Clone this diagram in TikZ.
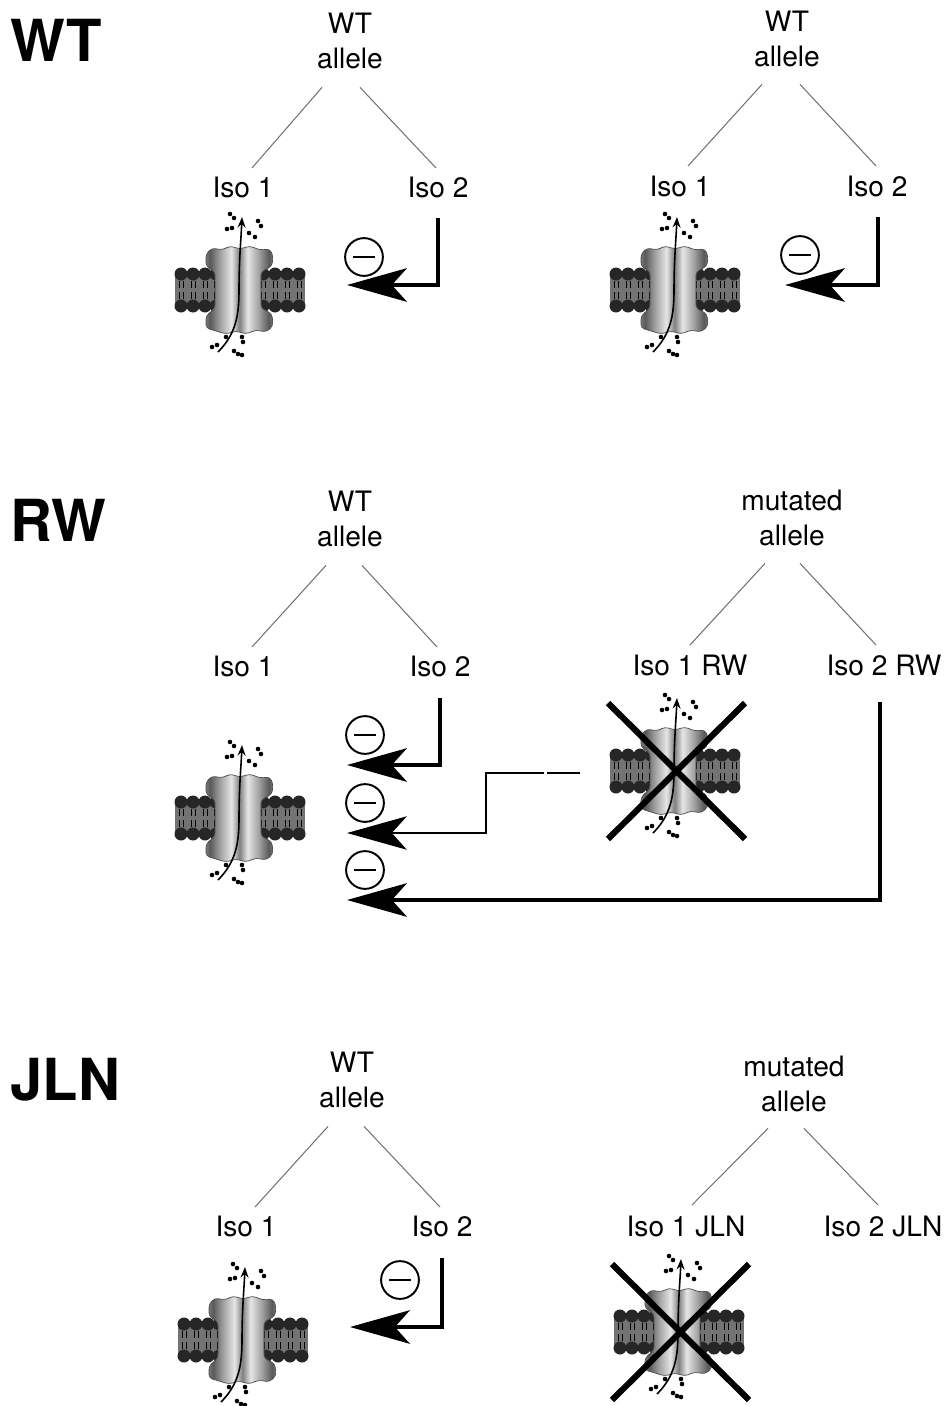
\documentclass[tikz,border=0pt]{standalone}
\usepackage{fontspec}
\setmainfont{TeX Gyre Heros}
\usetikzlibrary{arrows.meta,calc}

\pgfdeclarehorizontalshading{chan}{100bp}{color(0bp)=(black!80); color(8bp)=(black!55); color(18bp)=(black!25); color(28bp)=(black!65); color(36bp)=(black!35); color(44bp)=(black!10); color(50bp)=(black!50); color(56bp)=(black!10); color(64bp)=(black!35); color(72bp)=(black!65); color(82bp)=(black!25); color(92bp)=(black!55); color(100bp)=(black!80)}

\begin{document}
\begin{tikzpicture}[
        %Environment Config
        x=0.02cm, y=-0.02cm,
        font=\fontsize{16}{19.8}\selectfont,
        Genotype/.style={%Big genotype label
            font=\fontsize{33}{36}\selectfont\bfseries,
            anchor=west,
            inner sep=0pt
        },
        Allele/.style={%Allele label
            align=center,
            anchor=north,
            inner sep=0pt
        },
        Iso/.style={%Isoform label
            anchor=north,
            inner sep=0pt
        },
        Branch/.style={%Style for the allele branches
            black!55,
            line width=0.6pt
        },
        Inhib/.style={%Style for the inhibition arrows
            -{Stealth[length=34pt,width=19pt,inset=8.5pt]},
            line width=2.6pt
        },
        InhibThin/.style={%thin inhibition arrow
            Inhib,
            line width=1.2pt
        },
        MinusSign/.style={% Style for the circled minus
            circle,
            draw,
            line width=1.1pt,
            minimum size=21.5pt,
            inner sep=0pt,
            path picture={\draw[line width=1.1pt]
                ([xshift=-6pt]path picture bounding box.center) --
                ([xshift=6pt]path picture bounding box.center);}
        },
        CrossOut/.style={%Style for the cross over a channel
            line width=3.5pt
        }
    ]
    \def\IonChannel(#1)#2{%Channel in a membrane
        \begin{scope}[shift={(#1)}]
            \coordinate (#2) at (0,0);
            % membrane
            \fill[black!55] (-65,-16) rectangle (65,16);
            \foreach \hx in {-59,-47,-35,-24,23,35,47,59}{
                \fill[black!85] (\hx,-16) circle[radius=6.5];
                \fill[black!85] (\hx,16) circle[radius=6.5];
                \draw[line width=0.5pt] (\hx-2,-9) -- (\hx-2,-2) (\hx+2,-9) -- (\hx+2,-2)
                    (\hx-2,2) -- (\hx-2,9) (\hx+2,2) -- (\hx+2,9);
            }
            % channel protein
            \draw[black!70, line width=0.4pt, shading=chan, rounded corners=2pt]
                (-25,-18) -- (-34,-24) -- (-34,-36) -- (-28,-42) -- (-18,-40) -- (-10,-44)
                -- (0,-41) -- (10,-44) -- (20,-40) -- (30,-41) -- (33,-34) -- (32,-24) -- (21,-18)
                -- (21,18) -- (32,24) -- (33,36) -- (26,42) -- (16,40) -- (6,44) -- (-4,41)
                -- (-14,44) -- (-24,41) -- (-34,38) -- (-34,26) -- (-25,18) -- cycle;
            % ion flow
            \draw[line width=0.9pt, -{Stealth[length=6pt,width=4.5pt]}]
                (-22,62) .. controls (-4,44) and (-1,25) .. (-1,0)
                .. controls (-1,-30) and (1,-50) .. (2,-73);
            \foreach \dx/\dy in {-10/-76,-6/-72,-13/-61,-8/-62,18/-69,21/-64,9/-57,15/-53,
                -28/57,-23/55,-14/47,2/47,3/52,-6/61,-2/64,2/65}{
                \fill (\dx,\dy) circle[radius=2.3];
            }
        \end{scope}
    }
    \def\DeadChannel(#1)#2{%Crossed out channel
        \IonChannel(#1){#2}
        \draw[CrossOut] ($(#2)+(-67,-68)$) -- ($(#2)+(70,68)$);
        \draw[CrossOut] ($(#2)+(70,-68)$) -- ($(#2)+(-67,68)$);
    }

    \useasboundingbox (0,0) rectangle (948,1406);

    %%%%%%%%%%%%%%%%%%%%%%%%%%%%%%%%%%%%%%%%%%%%%%%%%%%%%%%%%%%%%%%%%%%%%%%%%%%%
    % WT
    %%%%%%%%%%%%%%%%%%%%%%%%%%%%%%%%%%%%%%%%%%%%%%%%%%%%%%%%%%%%%%%%%%%%%%%%%%%%
    \node[Genotype] (WT) at (10,40) {WT};
    % first allele
    \node[Allele] (WTa1) at (350,13) {WT\\allele};
    \node[Iso] (WTi1) at (243,177) {Iso 1};
    \node[Iso] (WTi2) at (438,177) {Iso 2};
    \draw[Branch] ($(WTa1.south)+(-28,18)$) -- ($(WTi1.north)+(9,-9)$);
    \draw[Branch] ($(WTa1.south)+(10,18)$) -- ($(WTi2.north)+(-2,-9)$);
    \IonChannel(240,290){WTc1}
    \node[MinusSign] (WTm1) at (364,257) {};
    \coordinate (WTt1) at (347,285);
    \draw[Inhib] ($(WTi2.south)+(0,19)$) |- (WTt1);

    % second allele
    \node[Allele] (WTa2) at (787,11) {WT\\allele};
    \node[Iso] (WTi3) at (680,176) {Iso 1};
    \node[Iso] (WTi4) at (877,176) {Iso 2};
    \draw[Branch] ($(WTa2.south)+(-25,17)$) -- ($(WTi3.north)+(8,-10)$);
    \draw[Branch] ($(WTa2.south)+(13,17)$) -- ($(WTi4.north)+(-1,-10)$);
    \IonChannel(675,290){WTc2}
    \node[MinusSign] (WTm2) at (800,255) {};
    \coordinate (WTt2) at (785,285);
    \draw[Inhib] ($(WTi4.south)+(1,19)$) |- (WTt2);

    %%%%%%%%%%%%%%%%%%%%%%%%%%%%%%%%%%%%%%%%%%%%%%%%%%%%%%%%%%%%%%%%%%%%%%%%%%%%
    % RW
    %%%%%%%%%%%%%%%%%%%%%%%%%%%%%%%%%%%%%%%%%%%%%%%%%%%%%%%%%%%%%%%%%%%%%%%%%%%%
    \node[Genotype] (RW) at (10,520) {RW};
    % WT allele
    \node[Allele] (RWa1) at (350,491) {WT\\allele};
    \node[Iso] (RWi1) at (243,656) {Iso 1};
    \node[Iso] (RWi2) at (440,656) {Iso 2};
    \draw[Branch] ($(RWa1.south)+(-24,18)$) -- ($(RWi1.north)+(9,-9)$);
    \draw[Branch] ($(RWa1.south)+(12,18)$) -- ($(RWi2.north)+(-3,-9)$);
    \IonChannel(240,818){RWc1}
    \node[MinusSign] (RWm1) at (365,735) {};
    \node[MinusSign] (RWm2) at (365,803) {};
    \node[MinusSign] (RWm3) at (365,870) {};
    \coordinate (RWt1) at (347,765);
    \coordinate (RWt2) at (347,833);
    \coordinate (RWt3) at (347,900);
    \draw[Inhib] ($(RWi2.south)+(0,20)$) |- (RWt1);

    % mutated allele
    \node[Allele] (RWa2) at (792,490) {mutated\\allele};
    \node[Iso] (RWi3) at (690,655) {Iso 1 RW};
    \node[Iso] (RWi4) at (884,655) {Iso 2 RW};
    \draw[Branch] ($(RWa2.south)+(-27,17)$) -- ($(RWi3.north)+(0,-10)$);
    \draw[Branch] ($(RWa2.south)+(8,17)$) -- ($(RWi4.north)+(-8,-10)$);
    \DeadChannel(675,771){RWc2}
    \draw[InhibThin, dash pattern=on 19pt off 1.7pt on 600pt] ($(RWc2)+(-95,2)$) -- ++(-94,0) |- (RWt2);
    \draw[Inhib] ($(RWi4.south)+(-4,25)$) |- (RWt3);

    %%%%%%%%%%%%%%%%%%%%%%%%%%%%%%%%%%%%%%%%%%%%%%%%%%%%%%%%%%%%%%%%%%%%%%%%%%%%
    % JLN
    %%%%%%%%%%%%%%%%%%%%%%%%%%%%%%%%%%%%%%%%%%%%%%%%%%%%%%%%%%%%%%%%%%%%%%%%%%%%
    \node[Genotype] (JLN) at (10,1080) {JLN};
    % WT allele
    \node[Allele] (JLa1) at (352,1052) {WT\\allele};
    \node[Iso] (JLi1) at (246,1216) {Iso 1};
    \node[Iso] (JLi2) at (442,1216) {Iso 2};
    \draw[Branch] ($(JLa1.south)+(-24,18)$) -- ($(JLi1.north)+(9,-9)$);
    \draw[Branch] ($(JLa1.south)+(12,18)$) -- ($(JLi2.north)+(-2,-9)$);
    \IonChannel(243,1340){JLc1}
    \node[MinusSign] (JLm1) at (400,1280) {};
    \coordinate (JLt1) at (350,1327);
    \draw[Inhib] ($(JLi2.south)+(0,20)$) |- (JLt1);

    % mutated allele
    \node[Allele] (JLa2) at (794,1056) {mutated\\allele};
    \node[Iso] (JLi3) at (686,1216) {Iso 1 JLN};
    \node[Iso] (JLi4) at (883,1216) {Iso 2 JLN};
    \draw[Branch] ($(JLa2.south)+(-26,16)$) -- ($(JLi3.north)+(6,-11)$);
    \draw[Branch] ($(JLa2.south)+(10,16)$) -- ($(JLi4.north)+(-5,-11)$);
    \DeadChannel(679,1332){JLc2}
\end{tikzpicture}
\end{document}
